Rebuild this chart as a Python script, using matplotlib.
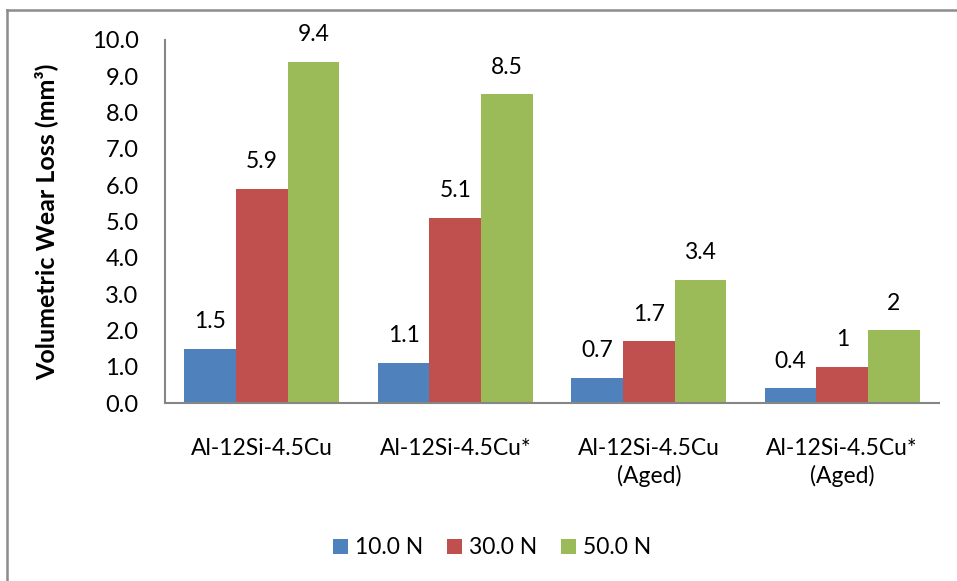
import matplotlib
matplotlib.use("Agg")
import matplotlib.pyplot as plt
from matplotlib.lines import Line2D
import numpy as np

plt.rcParams['font.family'] = ['Lato', 'DejaVu Sans']

categories = ["Al-12Si-4.5Cu", "Al-12Si-4.5Cu*", "Al-12Si-4.5Cu\n(Aged)", "Al-12Si-4.5Cu*\n(Aged)"]
series_names = ["10.0 N", "30.0 N", "50.0 N"]
load_10 = [1.5, 1.1, 0.7, 0.4]
load_30 = [5.9, 5.1, 1.7, 1.0]
load_50 = [9.4, 8.5, 3.4, 2.0]
value_labels = [["1.5", "1.1", "0.7", "0.4"],
                ["5.9", "5.1", "1.7", "1"],
                ["9.4", "8.5", "3.4", "2"]]
y_ticks = [0, 1, 2, 3, 4, 5, 6, 7, 8, 9, 10]

colors = ["#4F81BD", "#C0504D", "#9BBB59"]

W, H = 957, 581
fig = plt.figure(figsize=(W / 100, H / 100), dpi=100)
ax = fig.add_axes([165 / W, 1 - 403 / H, (939 - 165) / W, (403 - 40) / H])

FS = 16.5

x = np.arange(len(categories))
bw = 0.8 / 3
for i, (vals, name, c) in enumerate(zip([load_10, load_30, load_50], series_names, colors)):
    pos = x + (i - 1) * bw
    ax.bar(pos, vals, width=bw, color=c, label=name, edgecolor='none')
    for p, v, t in zip(pos, vals, value_labels[i]):
        ax.annotate(t, (p, v), xytext=(0, 19.5), textcoords='offset points',
                    ha='center', va='center', fontsize=FS, color='black')

ax.set_xlim(-0.5, len(categories) - 0.5)
ax.set_ylim(0, 10)
ax.set_yticks(y_ticks)
ax.set_yticklabels([f"{v:.1f}" for v in y_ticks], fontsize=17)
ax.set_xticks(x)
ax.set_xticklabels(categories, fontsize=FS, linespacing=1.35)
ax.tick_params(axis='both', length=0)
ax.tick_params(axis='y', pad=19)
ax.tick_params(axis='x', pad=25)
for s in ['top', 'right']:
    ax.spines[s].set_visible(False)
for s in ['left', 'bottom']:
    ax.spines[s].set_color('#868686')
    ax.spines[s].set_linewidth(1.5)

ax.set_ylabel("Volumetric Wear Loss (mm³)", fontsize=18, fontweight='bold')
ax.yaxis.set_label_coords((58 - 165) / (939 - 165), 0.5)

fig.legend(loc='center', bbox_to_anchor=(492 / W, 1 - 548 / H), ncol=3,
           frameon=False, fontsize=FS, handlelength=0.65, handleheight=0.65,
           handletextpad=0.3, columnspacing=1.05)

# outer chart frame (left and top edges)
fig.add_artist(Line2D([7 / W, 7 / W], [0, 1 - 10 / H], transform=fig.transFigure,
                      color='#8c8c8c', linewidth=1.8))
fig.add_artist(Line2D([7 / W, 1], [1 - 10 / H, 1 - 10 / H], transform=fig.transFigure,
                      color='#8c8c8c', linewidth=1.8))

fig.savefig("out.png", dpi=100)
